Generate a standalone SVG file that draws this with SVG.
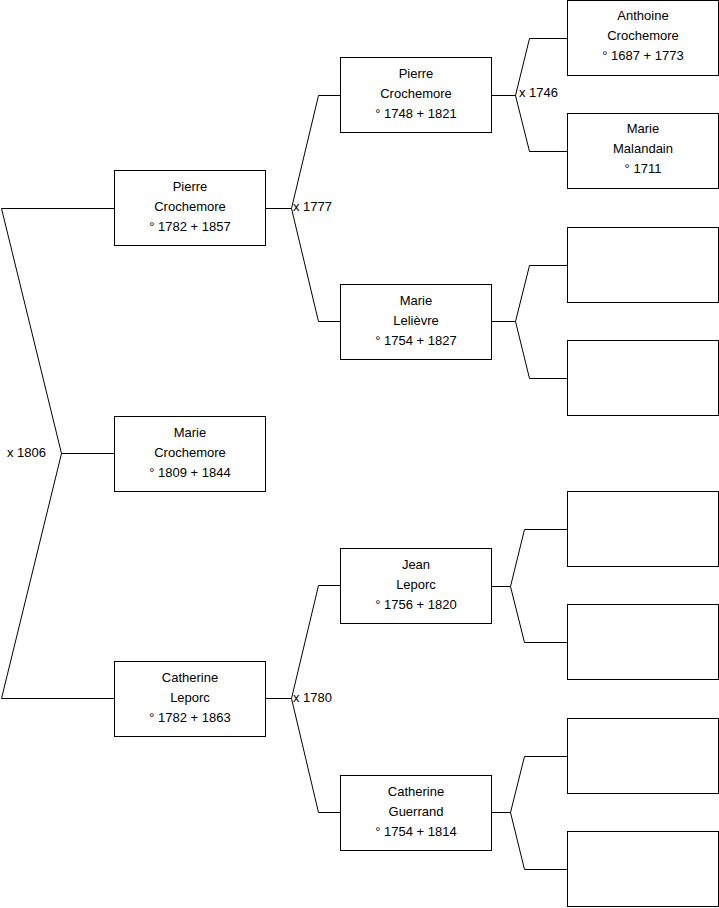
<svg xmlns="http://www.w3.org/2000/svg" width="719" height="908" viewBox="0 0 719 908">
<style>
.box{fill:#fff;stroke:#000;stroke-width:1}
.ln{fill:none;stroke:#000;stroke-width:1}
text{font-family:"Liberation Sans",Arial,sans-serif;font-size:13px;fill:#000}
.c{text-anchor:middle}
</style>
<rect width="719" height="908" fill="#fff"/>
<g id="connectors">
<polyline class="ln" points="114,208.5 1.5,208.5 61.5,453.5 1.5,698.5 114,698.5"/>
<line class="ln" x1="61.5" y1="453.5" x2="114" y2="453.5"/>
<polyline class="ln" points="341,95.5 318.5,95.5 291.5,208.5 318.5,321.5 341,321.5"/>
<line class="ln" x1="265" y1="208.5" x2="291.5" y2="208.5"/>
<polyline class="ln" points="341,585.5 318.5,585.5 291.5,698.5 318.5,812.5 341,812.5"/>
<line class="ln" x1="265" y1="698.5" x2="291.5" y2="698.5"/>
<polyline class="ln" points="567,38.5 529.5,38.5 515.5,95.5 529.5,151.5 567,151.5"/>
<line class="ln" x1="491" y1="95.5" x2="515.5" y2="95.5"/>
<polyline class="ln" points="567,265.5 529.5,265.5 515.5,321.5 529.5,378.5 567,378.5"/>
<line class="ln" x1="491" y1="321.5" x2="515.5" y2="321.5"/>
<polyline class="ln" points="567,529.5 524.5,529.5 510.5,586.5 524.5,642.5 567,642.5"/>
<line class="ln" x1="491" y1="586.5" x2="510.5" y2="586.5"/>
<polyline class="ln" points="567,756.5 524.5,756.5 510.5,812.5 524.5,869.5 567,869.5"/>
<line class="ln" x1="491" y1="812.5" x2="510.5" y2="812.5"/>
<text x="7" y="457">x 1806</text>
<text x="293" y="211">x 1777</text>
<text x="293" y="702">x 1780</text>
<text x="519" y="97">x 1746</text>
</g>
<g id="n-pierre-1782">
<rect class="box" x="114.5" y="170.5" width="151" height="75"/>
<text class="c" x="190" y="191">Pierre</text>
<text class="c" x="190" y="211">Crochemore</text>
<text class="c" x="190" y="231">° 1782 + 1857</text>
</g>
<g id="n-marie-1809">
<rect class="box" x="114.5" y="416.5" width="151" height="75"/>
<text class="c" x="190" y="437">Marie</text>
<text class="c" x="190" y="457">Crochemore</text>
<text class="c" x="190" y="477">° 1809 + 1844</text>
</g>
<g id="n-catherine-1782">
<rect class="box" x="114.5" y="661.5" width="151" height="75"/>
<text class="c" x="190" y="682">Catherine</text>
<text class="c" x="190" y="702">Leporc</text>
<text class="c" x="190" y="722">° 1782 + 1863</text>
</g>
<g id="n-pierre-1748">
<rect class="box" x="340.5" y="57.5" width="151" height="75"/>
<text class="c" x="416" y="78">Pierre</text>
<text class="c" x="416" y="98">Crochemore</text>
<text class="c" x="416" y="118">° 1748 + 1821</text>
</g>
<g id="n-marie-lelievre">
<rect class="box" x="340.5" y="284.5" width="151" height="75"/>
<text class="c" x="416" y="305">Marie</text>
<text class="c" x="416" y="325">Lelièvre</text>
<text class="c" x="416" y="345">° 1754 + 1827</text>
</g>
<g id="n-jean-leporc">
<rect class="box" x="340.5" y="548.5" width="151" height="75"/>
<text class="c" x="416" y="569">Jean</text>
<text class="c" x="416" y="589">Leporc</text>
<text class="c" x="416" y="609">° 1756 + 1820</text>
</g>
<g id="n-catherine-guerrand">
<rect class="box" x="340.5" y="775.5" width="151" height="75"/>
<text class="c" x="416" y="796">Catherine</text>
<text class="c" x="416" y="816">Guerrand</text>
<text class="c" x="416" y="836">° 1754 + 1814</text>
</g>
<g id="n-anthoine">
<rect class="box" x="567.5" y="0.5" width="151" height="75"/>
<text class="c" x="643" y="20">Anthoine</text>
<text class="c" x="643" y="40">Crochemore</text>
<text class="c" x="643" y="60">° 1687 + 1773</text>
</g>
<g id="n-marie-malandain">
<rect class="box" x="567.5" y="113.5" width="151" height="75"/>
<text class="c" x="643" y="133">Marie</text>
<text class="c" x="643" y="153">Malandain</text>
<text class="c" x="643" y="173">° 1711</text>
</g>
<g id="n-empty-1"><rect class="box" x="567.5" y="227.5" width="151" height="75"/></g>
<g id="n-empty-2"><rect class="box" x="567.5" y="340.5" width="151" height="75"/></g>
<g id="n-empty-3"><rect class="box" x="567.5" y="491.5" width="151" height="75"/></g>
<g id="n-empty-4"><rect class="box" x="567.5" y="604.5" width="151" height="75"/></g>
<g id="n-empty-5"><rect class="box" x="567.5" y="718.5" width="151" height="75"/></g>
<g id="n-empty-6"><rect class="box" x="567.5" y="831.5" width="151" height="75"/></g>
</svg>
